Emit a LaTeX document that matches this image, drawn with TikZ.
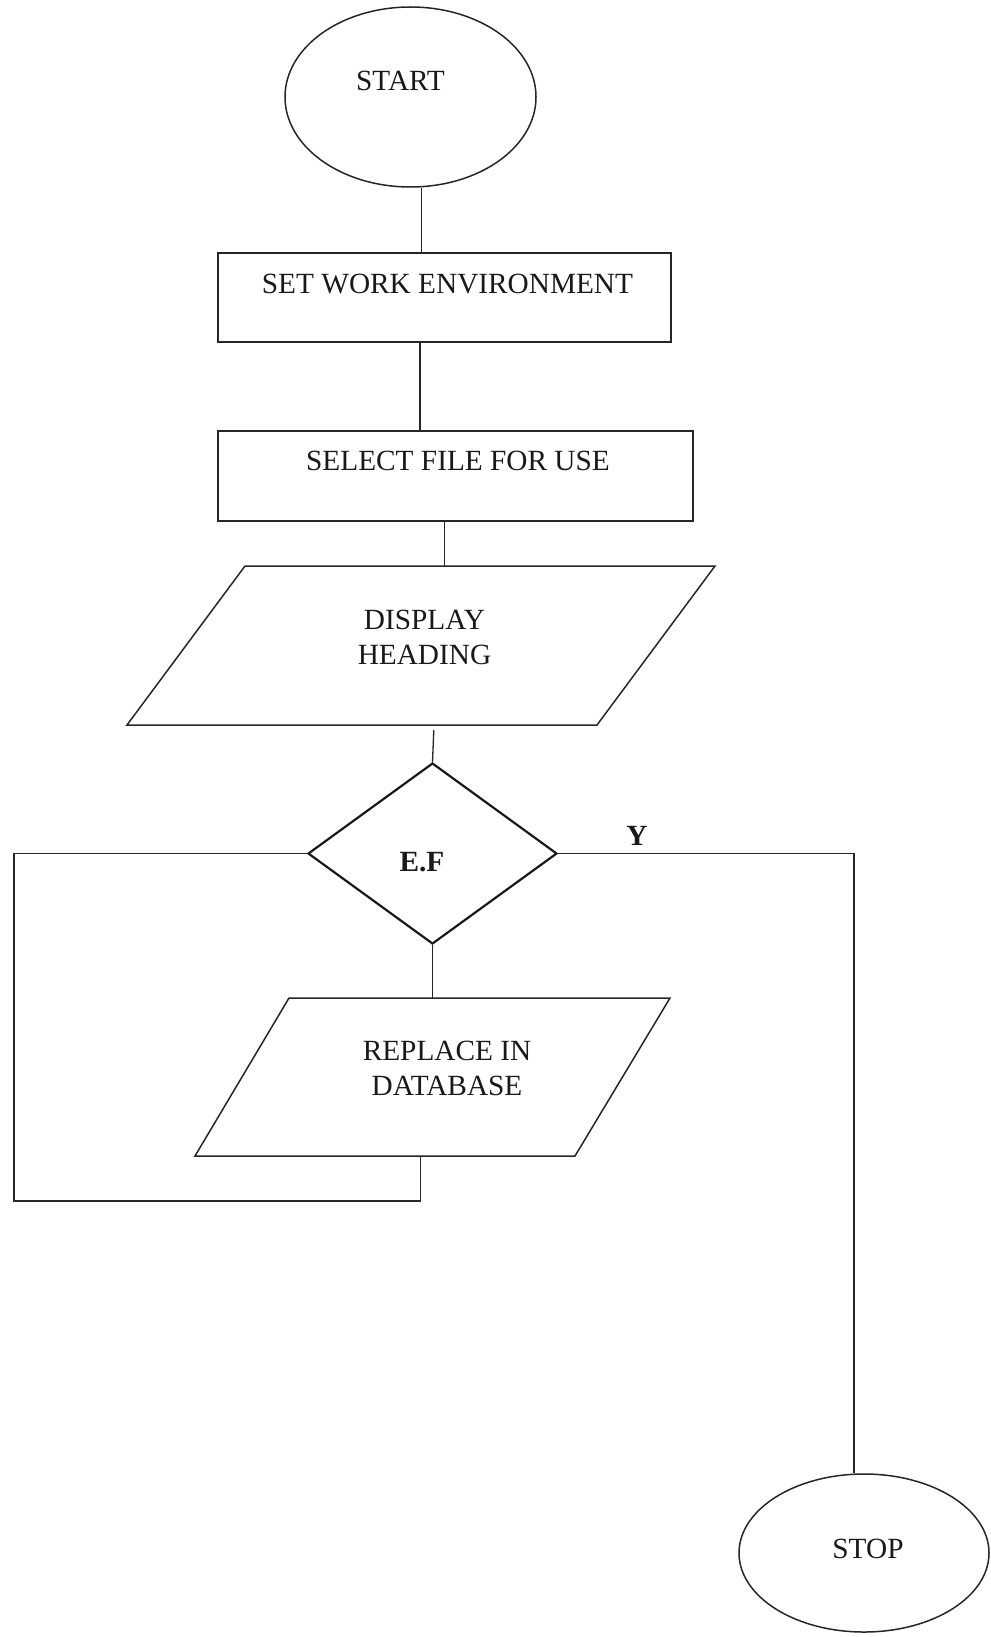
\documentclass[tikz,border=0pt]{standalone}
\usepackage{fontspec}
\setmainfont{Liberation Serif}
\usetikzlibrary{shapes.geometric}

\begin{document}
\begin{tikzpicture}[x=1pt,y=-1pt,
  line/.style={draw=black!85, line width=1.3pt},
  shapeline/.style={draw=black!85, line width=1.5pt},
  lbl/.style={font=\fontsize{29.3}{35}\selectfont, anchor=base, inner sep=0pt, text=black!90},
  lblb/.style={font=\fontsize{29.3}{35}\selectfont\bfseries, anchor=base, inner sep=0pt, text=black!90},
  terminal/.style={shapeline, ellipse, inner sep=0pt},
  procbox/.style={shapeline, rectangle, inner sep=0pt},
  decision/.style={draw=black!90, line width=2.2pt, diamond, inner sep=0pt}]

\useasboundingbox (0,0) rectangle (990,1637);

% terminals
\node[terminal, minimum width=251pt, minimum height=180pt] (start) at (410.5,97) {};
\node[lbl] (startT) at (400.5,91) {START};

\node[terminal, minimum width=250pt, minimum height=158pt] (stop) at (864,1553) {};
\node[lbl] (stopT) at (868,1558) {STOP};

% process boxes
\node[procbox, minimum width=453pt, minimum height=89pt] (env) at (444.5,297.5) {};
\node[lbl] (envT) at (447.5,293) {SET WORK ENVIRONMENT};

\node[procbox, minimum width=475pt, minimum height=90pt] (sel) at (455.5,476) {};
\node[lbl] (selT) at (458,470) {SELECT FILE FOR USE};

% input/output: display heading
\coordinate (dispTL) at (245,566);
\coordinate (dispTR) at (715,566);
\coordinate (dispBR) at (597,725);
\coordinate (dispBL) at (127,725);
\draw[shapeline] (dispTL) -- (dispTR) -- (dispBR) -- (dispBL) -- cycle;
\coordinate (dispOut) at (434,725);
\node[lbl] (dispT1) at (424.5,629) {DISPLAY};
\node[lbl] (dispT2) at (424.5,664) {HEADING};

% decision
\node[decision, minimum width=249pt, minimum height=181pt] (ef) at (432.5,853.5) {};
\node[lblb] (efT) at (422,871) {E.F};
\node[lblb] (yesT) at (637,845) {Y};

% input/output: replace in database
\coordinate (repTL) at (289,998);
\coordinate (repTR) at (670,998);
\coordinate (repBR) at (575,1156);
\coordinate (repBL) at (195,1156);
\draw[shapeline] (repTL) -- (repTR) -- (repBR) -- (repBL) -- cycle;
\coordinate (repOut) at (420.5,1156);
\coordinate (loopL) at (14,1201);
\node[lbl] (repT1) at (447,1060) {REPLACE IN};
\node[lbl] (repT2) at (447,1095) {DATABASE};

% connectors
\draw[line] ([xshift=11pt]start.south) -- ([xshift=11pt]start.south |- env.north);
\draw[line] ([xshift=-24.5pt]env.south) -- ([xshift=-24.5pt]env.south |- sel.north);
\draw[line] ([xshift=-11pt]sel.south) -- ([xshift=-11pt]sel.south |- dispTL);
\draw[line, shorten <=5pt] (dispOut) -- (ef.north);
\draw[line] (ef.south) -- (ef.south |- repTL);
\draw[line] (repOut) -- (repOut |- loopL) -- (loopL) |- (ef.west);
\draw[line] (ef.east) -| ([xshift=-10pt]stop.north);

\end{tikzpicture}
\end{document}
